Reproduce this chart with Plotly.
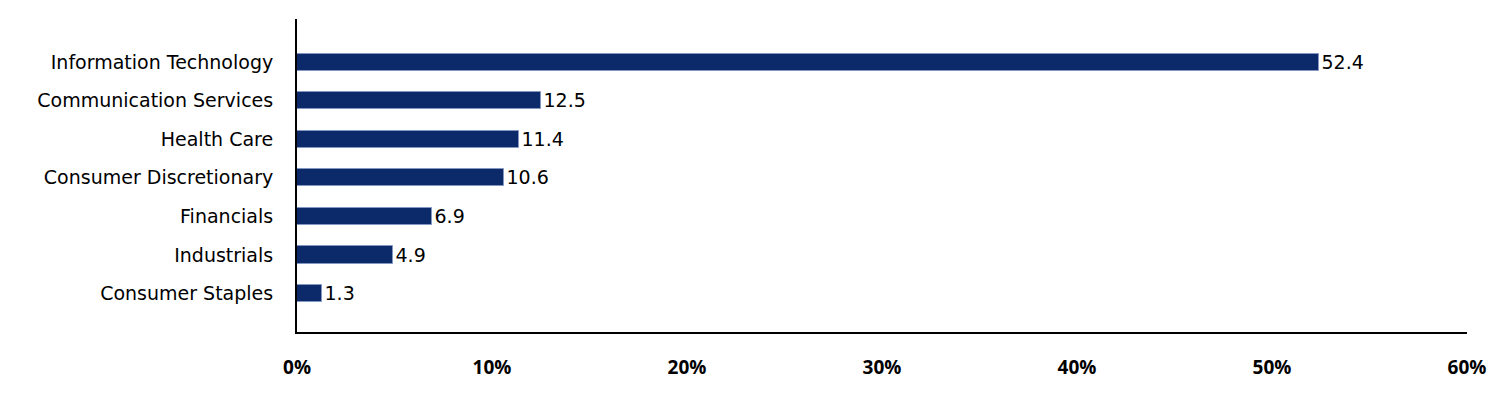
import plotly.graph_objects as go

categories = ["Information Technology", "Communication Services", "Health Care",
              "Consumer Discretionary", "Financials", "Industrials", "Consumer Staples"]
values = [52.4, 12.5, 11.4, 10.6, 6.9, 4.9, 1.3]
x_ticks = [0, 10, 20, 30, 40, 50, 60]
x_tick_labels = ["0%", "10%", "20%", "30%", "40%", "50%", "60%"]

FONT = "DejaVu Sans"
TICK_FONT = "Open Sans"

fig = go.Figure(go.Bar(
    x=values,
    y=categories,
    orientation="h",
    width=0.45,
    marker=dict(color="#0c2a6a", line=dict(color="#8497c0", width=1)),
    text=[f"{v:.1f}" for v in values],
    textposition="outside",
    constraintext="none",
    textfont=dict(family=FONT, size=19, color="#000000"),
    cliponaxis=False,
    hoverinfo="skip",
))

fig.update_layout(
    width=1504, height=400,
    margin=dict(l=289, r=45, t=11, b=76),
    paper_bgcolor="white", plot_bgcolor="white",
    showlegend=False,
    font=dict(family=FONT, size=19, color="#000000"),
    bargap=0,
)
fig.update_xaxes(
    range=[0, 60],
    tickvals=x_ticks, ticktext=x_tick_labels,
    tickfont=dict(family=TICK_FONT, size=19, color="#000000", weight="bold"),
    showgrid=False, zeroline=False,
    showline=True, linecolor="#000000", linewidth=2,
    ticks="", ticklabelstandoff=17,
)
fig.update_yaxes(
    categoryorder="array", categoryarray=categories,
    range=[7.0, -1.12],
    tickfont=dict(family=FONT, size=19, color="#000000"),
    showgrid=False, zeroline=False,
    showline=True, linecolor="#000000", linewidth=2,
    ticks="", ticklabelstandoff=18,
)

fig.write_html("out.html")
